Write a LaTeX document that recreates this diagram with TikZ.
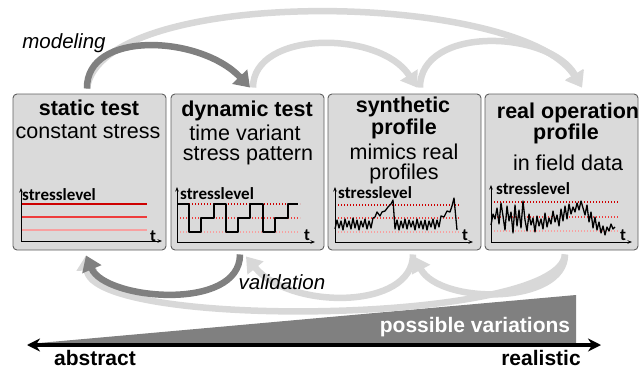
\documentclass[tikz,border=0pt]{standalone}
\usepackage{fontspec}
\setmainfont{Liberation Sans}
\newfontfamily\calib{Carlito}
\usetikzlibrary{arrows.meta}
\definecolor{boxfill}{RGB}{218,218,218}
\definecolor{boxline}{RGB}{95,95,95}
\definecolor{lightgr}{RGB}{216,216,216}
\definecolor{darkgr}{RGB}{128,128,128}
\definecolor{rdark}{RGB}{205,0,0}
\definecolor{rmid}{RGB}{238,60,60}
\definecolor{rlight}{RGB}{248,160,160}
\tikzset{
  stagebox/.style={draw=boxline, fill=boxfill, rounded corners=4pt, line width=0.9pt,
    minimum width=153pt, minimum height=156pt, inner sep=0pt},
  ttl/.style={font=\fontsize{21.5}{24}\selectfont\bfseries, inner sep=0pt},
  sub/.style={font=\fontsize{21.5}{24}\selectfont, inner sep=0pt},
  lbl/.style={font=\calib\bfseries\fontsize{17}{18}\selectfont, inner sep=0pt, anchor=west},
  tlbl/.style={font=\calib\bfseries\fontsize{17}{18}\selectfont, inner sep=0pt},
  ax/.style={line width=0.8pt, -{Stealth[length=4.5pt,width=3.5pt]}},
  darkarc/.style={draw=darkgr, line width=6.5pt, -{Triangle[length=15pt,width=20pt]}},
  lightarc/.style={draw=lightgr, line width=6.5pt, -{Triangle[length=15pt,width=20pt]}},
  lvl/.style={line width=1.2pt, dash pattern=on 1.2pt off 1.8pt},
  sig/.style={line width=1.3pt, line join=round},
  note/.style={font=\fontsize{20.5}{24}\selectfont\itshape, inner sep=0pt},
  axlabel/.style={font=\fontsize{21}{24}\selectfont\bfseries, inner sep=0pt}
}
\begin{document}
\begin{tikzpicture}[x=1pt,y=-1pt]
\useasboundingbox (0,0) rectangle (639,369);

% boxes
\node[stagebox] (b1) at (89.5,172) {};
\node[stagebox] (b2) at (247.5,172) {};
\node[stagebox] (b3) at (404.5,172) {};
\node[stagebox] (b4) at (561.5,172) {};

% texts
\node[ttl] (t1a) at (89,108) {static test};
\node[sub] (t1b) at (88,132) {constant stress};
\node[ttl] (t2a) at (247,110.5) {dynamic test};
\node[sub] (t2b) at (245,132.5) {time variant};
\node[sub] (t2c) at (248,155.5) {stress pattern};
\node[ttl] (t3a) at (403,107) {synthetic};
\node[ttl] (t3b) at (404,129) {profile};
\node[sub] (t3c) at (404,152) {mimics real};
\node[sub] (t3d) at (404,174) {profiles};
\node[ttl] (t4a) at (568,113) {real operation};
\node[ttl] (t4b) at (566,134) {profile};
\node[sub] (t4c) at (568,163) {in field data};

% chart 1
\draw[line width=1.8pt, rdark] (21,204) -- (147,204);
\draw[line width=1.8pt, rmid] (21,217) -- (147,217);
\draw[line width=1.8pt, rlight] (21,230) -- (147,230);
\draw[ax] (21,241) -- (21,188);
\draw[ax] (21,241) -- (162,241);
\node[lbl] (s1) at (22,195) {stresslevel};
\node[tlbl] (x1) at (153,236) {t};

% chart 2
\draw[lvl, rdark] (177,204) -- (300,204);
\draw[lvl, rmid] (177,218) -- (300,218);
\draw[lvl, rlight] (177,232) -- (300,232);
\draw[sig] (177,204) -- (189,204) -- (189,232) -- (201,232) -- (201,218) -- (214,218) -- (214,204)
  -- (226,204) -- (226,232) -- (238,232) -- (238,218) -- (250,218) -- (250,204) -- (263,204)
  -- (263,232) -- (275,232) -- (275,218) -- (288,218) -- (288,204) -- (298,204);
\draw[ax] (177,242) -- (177,187);
\draw[ax] (177,242) -- (315,242);
\node[lbl] (s2) at (180,194) {stresslevel};
\node[tlbl] (x2) at (307,235) {t};

% chart 3
\draw[lvl, rdark] (335,205) -- (460,205);
\draw[lvl, rmid] (335,218) -- (460,218);
\draw[lvl, rlight] (335,232) -- (460,232);
\draw[sig] plot coordinates {(335,229) (337,220) (339,228) (341,221) (343,230) (345,219) (347,227)
  (349,221) (351,229) (353,218) (355,228) (357,220) (359,230) (361,221) (363,227) (365,219)
  (367,229) (369,221) (371,228) (373,218) (375,217) (377,212) (380,216) (382,212) (385,211)
  (388,207) (391,204) (393,200) (395,229) (397,220) (399,230) (401,221) (403,228) (405,219)
  (407,229) (409,220) (411,227) (413,221) (415,230) (417,219) (419,228) (421,221) (423,229)
  (425,220) (427,230) (429,221) (431,227) (433,219) (435,229) (437,220) (439,227) (441,216)
  (444,217) (447,211) (450,212) (452,206) (454,198) (457,230)};
\draw[ax] (335,242) -- (335,187);
\draw[ax] (335,242) -- (473,242);
\node[lbl] (s3) at (338,193) {stresslevel};
\node[tlbl] (x3) at (465,235) {t};

% chart 4
\draw[lvl, rdark] (491,202) -- (618,202);
\draw[lvl, rmid] (491,217) -- (618,217);
\draw[lvl, rlight] (491,231) -- (618,231);
\draw[sig] plot coordinates {(491,225) (493,214) (495,219) (497,208) (499,224) (501,203) (503,216)
  (505,230) (507,206) (509,221) (511,212) (513,233) (515,205) (517,226) (519,210) (521,228)
  (523,201) (525,220) (527,231) (529,214) (531,225) (533,218) (535,232) (537,216) (539,226)
  (541,219) (543,229) (545,213) (547,227) (549,218) (551,224) (553,211) (555,222) (557,215)
  (559,226) (561,209) (563,221) (565,206) (567,219) (569,204) (571,214) (573,207) (575,212)
  (577,203) (579,210) (581,201) (583,208) (585,215) (587,205) (589,222) (591,212) (593,228)
  (595,217) (597,230) (599,222) (601,233) (603,226) (605,235) (607,227) (609,231) (611,224)
  (613,229) (615,227)};
\draw[ax] (491,242) -- (491,185);
\draw[ax] (491,242) -- (632,242);
\node[lbl] (s4) at (496,189) {stresslevel};
\node[tlbl] (x4) at (623,235) {t};

% variation wedge and axis
\fill[darkgr] (28,344) -- (576,344) -- (576,295) -- cycle;
\node[axlabel, text=white] (pv) at (475,327) {possible variations};
\coordinate (axL) at (27,345);
\coordinate (axR) at (601,345);
\draw[line width=3.5pt, {Stealth[length=13pt,width=13pt]}-{Stealth[length=13pt,width=13pt]}] (axL) -- (axR);
\node[axlabel] (abs) at (95,358) {abstract};
\node[axlabel] (real) at (541,358) {realistic};

% connection points
\coordinate (b1t) at ([xshift=-2.5pt,yshift=5pt]b1.north);
\coordinate (b2tin) at ([xshift=2.5pt,yshift=6pt]b2.north);
\coordinate (b2tout) at ([xshift=5.5pt,yshift=6pt]b2.north);
\coordinate (b3tin) at ([xshift=12.5pt,yshift=6pt]b3.north);
\coordinate (b3tout) at ([xshift=15.5pt,yshift=6pt]b3.north);
\coordinate (b4tin) at ([xshift=20.5pt,yshift=6pt]b4.north);
\coordinate (b1b) at ([xshift=-3.5pt,yshift=-5pt]b1.south);
\coordinate (b2bin) at ([xshift=-1.5pt,yshift=-6pt]b2.south);
\coordinate (b2bout) at ([xshift=-7.5pt,yshift=-4pt]b2.south);
\coordinate (b3bin) at ([xshift=9.5pt,yshift=-6pt]b3.south);
\coordinate (b3bout) at ([xshift=8.5pt,yshift=-4pt]b3.south);
\coordinate (b4bout) at ([xshift=3.5pt,yshift=-4pt]b4.south);

% top arcs
\draw[lightarc] (b1t) .. controls (100,-15) and (520,-10) .. (b4tin);
\draw[lightarc] (b3tout) .. controls (420,25) and (550,30) .. (b4tin);
\draw[lightarc] (b2tout) .. controls (253,30) and (380,30) .. (b3tin);
\draw[darkarc] (b1t) .. controls (86,30) and (200,35) .. (b2tin);
\node[note] (mod) at (64,43) {modeling};

% bottom arcs
\draw[lightarc] (b4bout) .. controls (560,325) and (90,330) .. (b1b);
\draw[lightarc] (b4bout) .. controls (565,305) and (440,305) .. (b3bin);
\draw[lightarc] (b3bout) .. controls (413,310) and (290,310) .. (b2bin);
\draw[darkarc] (b2bout) .. controls (240,312) and (105,300) .. (b1b);
\node[note] (val) at (282,282) {validation};
\end{tikzpicture}
\end{document}
